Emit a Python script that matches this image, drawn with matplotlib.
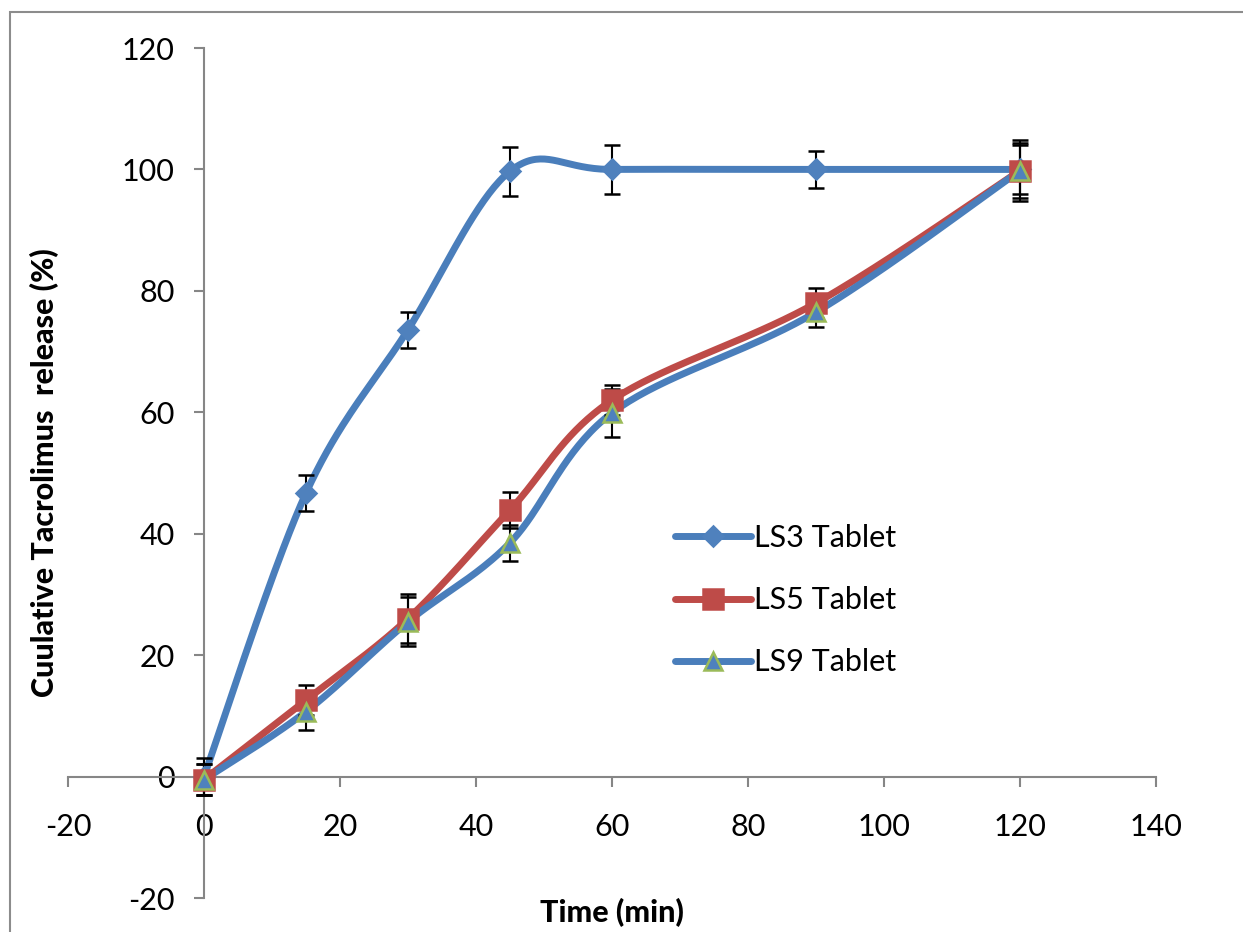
import numpy as np
import matplotlib.pyplot as plt
from matplotlib.lines import Line2D
from matplotlib.patches import Rectangle

plt.rcParams['font.family'] = ['Lato', 'DejaVu Sans']
plt.rcParams['axes.unicode_minus'] = False

# Dissolution data (time in min, cumulative release in %)
time = [0, 15, 30, 45, 60, 90, 120]
ls3 = [0, 46.7, 73.6, 99.7, 100, 100, 100]
ls5 = [-0.5, 12.6, 26, 43.9, 62, 78, 99.8]
ls9 = [-0.5, 10.7, 25.5, 38.5, 59.9, 76.5, 99.8]
ls3_err = [3, 3, 3, 4, 4, 3, 4]
ls5_err = [2.5, 2.5, 4, 3, 2.5, 2.5, 4.5]
ls9_err = [2.5, 3, 4, 3, 4, 2.5, 5]

BLUE = '#4A7EBB'
BLUE_M = '#4F81BD'
RED = '#BE4B48'
GREEN = '#9BBB59'
GRAY = '#868686'


# Smoothed line like the spreadsheet "smoothed line" option (Catmull-Rom bezier)
def smooth(xs, ys, n=40):
    p = np.column_stack([xs, ys]).astype(float)
    p = np.vstack([p[0], p, p[-1]])
    out = []
    for i in range(1, len(p) - 2):
        p0, p1, p2, p3 = p[i - 1], p[i], p[i + 1], p[i + 2]
        c1 = p1 + (p2 - p0) / 6
        c2 = p2 - (p3 - p1) / 6
        t = np.linspace(0, 1, n)[:, None]
        seg = ((1 - t) ** 3) * p1 + 3 * ((1 - t) ** 2) * t * c1 + 3 * (1 - t) * t ** 2 * c2 + t ** 3 * p2
        out.append(seg)
    out = np.vstack(out)
    return out[:, 0], out[:, 1]


fig = plt.figure(figsize=(12.43, 9.32), dpi=100)
fig.patches.append(Rectangle((0.008, -0.1), 1.2, 1.087, transform=fig.transFigure,
                             fill=False, edgecolor='#8c8c8c', linewidth=1.5))
ax = fig.add_axes([68 / 1243, 34 / 932, 1088 / 1243, 850 / 932])

series = [
    ('LS3 Tablet', ls3, ls3_err, BLUE, 'D', BLUE_M, BLUE_M, 10),
    ('LS5 Tablet', ls5, ls5_err, RED, 's', RED, RED, 14),
    ('LS9 Tablet', ls9, ls9_err, BLUE, '^', BLUE_M, GREEN, 13),
]

handles = []
for name, ys, err, col, mk, mfc, mec, ms in series:
    sx, sy = smooth(time, ys)
    ax.plot(sx, sy, color=col, linewidth=5, solid_capstyle='round', zorder=2)
    ax.errorbar(time, ys, yerr=err, fmt='none', ecolor='black', elinewidth=1.5,
                capsize=6, capthick=1.8, zorder=3)
    ax.plot(time, ys, linestyle='none', marker=mk, markersize=ms,
            markerfacecolor=mfc, markeredgecolor=mec, markeredgewidth=1.8, zorder=4)
    handles.append(Line2D([], [], color=col, linewidth=5, marker=mk, markersize=ms,
                          markerfacecolor=mfc, markeredgecolor=mec, markeredgewidth=1.8,
                          solid_capstyle='round', label=name))

ax.set_xlim(-20, 140)
ax.set_ylim(-20, 120)
ax.set_xticks(range(-20, 141, 20))
ax.set_yticks(range(-20, 121, 20))

ax.spines['left'].set_position(('data', 0))
ax.spines['bottom'].set_position(('data', 0))
ax.spines['top'].set_visible(False)
ax.spines['right'].set_visible(False)
for s in ['left', 'bottom']:
    ax.spines[s].set_color(GRAY)
    ax.spines[s].set_linewidth(1.5)

ax.tick_params(axis='x', direction='out', length=7, width=1.5, color=GRAY,
               labelsize=22, pad=19)
ax.tick_params(axis='y', direction='out', length=7, width=1.5, color=GRAY,
               labelsize=22, pad=14)

ax.set_xlabel('Time (min)', fontsize=22, fontweight='black')
ax.set_ylabel('Cuulative Tacrolimus  release (%)', fontsize=22, fontweight='black')
ax.xaxis.set_label_coords(0.5, 0.0)
ax.yaxis.set_label_coords(-0.008, 0.5)

ax.legend(handles=handles, frameon=False, fontsize=22, handlelength=2.5,
          handletextpad=0.1, labelspacing=1.12, borderaxespad=0, borderpad=0,
          loc='upper left', bbox_to_anchor=(607 / 1088, (898 - 524) / 850))

fig.savefig('out.png', dpi=100)
